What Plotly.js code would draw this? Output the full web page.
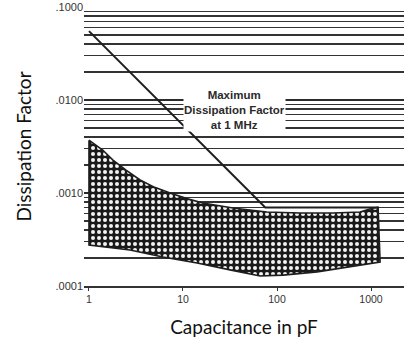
<!DOCTYPE html>
<html><head><meta charset="utf-8">
<script src="https://cdn.plot.ly/plotly-3.0.1.min.js"></script>
<style>html,body{margin:0;padding:0;background:#fff}#chart{width:404px;height:343px}</style>
</head><body><div id="chart"></div>
<script>
// Maximum dissipation factor at 1 MHz (limit line)
const maxDfCap = [1, 75, 1200];
const maxDfVal = [0.055, 0.0007, 0.0007];
// Typical range band (hatched): upper edge and lower edge
const bandUpperCap = [1.0, 1.4, 1.8, 2.5, 3.5, 5, 7.3, 11, 16.3, 34, 78, 176, 394, 764, 1050, 1190];
const bandUpperDf  = [0.0037, 0.0029, 0.00226, 0.00175, 0.00138, 0.00115, 0.001, 0.00087, 0.00078, 0.00069, 0.000625, 0.00061, 0.00061, 0.000625, 0.00069, 0.0007];
const bandLowerCap = [1.0, 2.73, 6.1, 14.1, 31.6, 66, 116, 267, 598, 1250];
const bandLowerDf  = [0.000276, 0.000244, 0.000205, 0.000177, 0.000149, 0.000128, 0.000131, 0.000142, 0.00016, 0.000181];
// Tick labels
const xTickVals = [1, 10, 100, 1000];
const xTickText = ['1', '10', '100', '1000'];
const yTickVals = [0.0001, 0.001, 0.01, 0.1];
const yTickText = ['.0001', '.0010', '.0100', '.1000'];

// minor gridline positions (2..9 of each decade)
const yMinorVals = [];
yTickVals.slice(0, 3).forEach(d => { for (let k = 2; k <= 9; k++) yMinorVals.push(d * k); });

// closed polygon for the band
const polyX = bandUpperCap.concat(bandLowerCap.slice().reverse(), [bandUpperCap[0]]);
const polyY = bandUpperDf.concat(bandLowerDf.slice().reverse(), [bandUpperDf[0]]);

const ink = '#1e1e1e';
const traces = [
  {
    x: polyX, y: polyY, type: 'scatter', mode: 'lines', fill: 'toself',
    fillcolor: '#1a1a1a',
    fillpattern: {shape: '.', bgcolor: '#1a1a1a', fgcolor: '#f2f2f2', size: 6, solidity: 0.35, fillmode: 'replace'},
    line: {color: ink, width: 1.6}, hoverinfo: 'skip', showlegend: false
  },
  {
    x: maxDfCap, y: maxDfVal, type: 'scatter', mode: 'lines',
    line: {color: ink, width: 2}, hoverinfo: 'skip', showlegend: false
  }
];

const layout = {
  width: 404, height: 343,
  margin: {l: 84, r: 0, t: 7, b: 57},
  paper_bgcolor: '#fff', plot_bgcolor: '#fff',
  showlegend: false, hovermode: false,
  xaxis: {
    type: 'log', range: [-0.053, 3.351],
    tickvals: xTickVals, ticktext: xTickText,
    ticks: 'outside', ticklen: 3, tickcolor: '#333', tickwidth: 1,
    showgrid: false, zeroline: false,
    showline: true, linecolor: '#333', linewidth: 1.5,
    tickfont: {family: 'Arial, Liberation Sans, sans-serif', size: 10.5, color: '#333'},
    title: {text: 'Capacitance in pF', standoff: 16,
            font: {family: 'Lato, sans-serif', size: 19, color: '#111'}}
  },
  yaxis: {
    type: 'log', range: [-4, -1],
    tickvals: yTickVals, ticktext: yTickText,
    ticks: '', showline: false, zeroline: false,
    showgrid: true, gridcolor: '#2b2b2b', gridwidth: 1.5,
    minor: {tickvals: yMinorVals, showgrid: true, gridcolor: '#333', gridwidth: 1.4, ticks: ''},
    tickfont: {family: 'Arial, Liberation Sans, sans-serif', size: 11, color: '#333'},
    title: {text: 'Dissipation Factor', standoff: 18,
            font: {family: 'Lato, sans-serif', size: 19, color: '#111'}}
  },
  annotations: [{
    xref: 'x', yref: 'y', x: 1.553, y: -2.108,
    text: '<b>Maximum</b><br><b>Dissipation Factor</b><br><b>at 1 MHz</b>',
    showarrow: false, align: 'center',
    bgcolor: '#fff', borderpad: 0,
    font: {family: 'Arial, Liberation Sans, sans-serif', size: 11.5, color: '#2a2a2a'}
  }]
};

Plotly.newPlot('chart', traces, layout, {displayModeBar: false, staticPlot: true});
</script>
</body></html>
